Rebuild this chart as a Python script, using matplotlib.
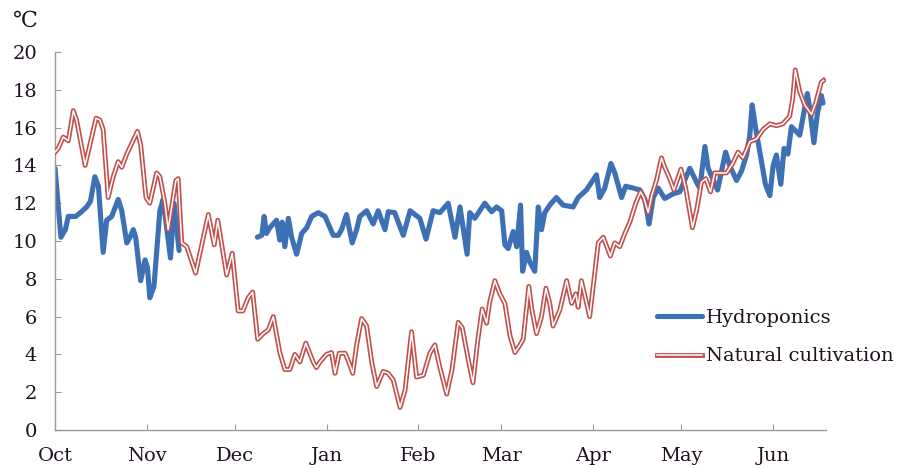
'''
Daily temperature: hydroponics vs natural cultivation (Oct - Jun)
'''

import numpy as np
import matplotlib
matplotlib.use('Agg')
import matplotlib.pyplot as plt
import matplotlib.patheffects as pe

# day offsets from Oct 1 and temperatures (deg C)
hydro_day = [0, 2, 3.5, 4.5, 7, 9, 10.7, 12, 13.5, 14.7, 16.3, 17.5, 19.2, 21.4, 22.6,
             24.3, 25.4, 26.5, 27.3, 29, 30.5, 31.3, 32.1, 33.5, 35.5, 36.6, 39.1, 40.3, 42,
             55,  # gap (no data)
             68.5, 70, 70.8, 71.6, 72.7, 75, 76.1, 76.9, 77.8, 79, 80.1, 81.8, 83.5, 85.2,
             86.9, 89.1, 91.4, 94.2, 95.9, 97, 98.7, 100.6, 102.1, 103.2, 105.5, 107.7,
             109.4, 111.7, 112.8, 115, 117.9, 120.2, 123.5, 125.6, 128, 130.3, 133.1, 135.4,
             137.1, 139.5, 140.4, 142.1, 145.5, 147.8, 149.5, 151.2, 152.3, 153.4, 155.1,
             156.3, 157.6, 158.3, 159.6, 160.7, 162.4, 163.6, 164.7, 165.8, 167.5, 169.7,
             172, 175.4, 177.1, 179.9, 183.3, 184.4, 186.1, 188.2, 189.5, 191.8, 193.2,
             195.7, 198, 199.7, 201.1, 202.5, 204.2, 206.4, 209.3, 211.5, 214.9, 217.2,
             218.3, 220, 221.1, 224.3, 227, 228.4, 230.7, 232.4, 234.1, 235.2, 236, 237.1,
             239.4, 240.5, 242, 243.1, 244.2, 245.7, 246.8, 248.1, 249.3, 252.1, 254.7,
             255.5, 256.9, 258.1, 259.4, 260]
hydro_val = [13.85, 10.2, 10.6, 11.3, 11.3, 11.55, 11.8, 12.1, 13.4, 12.9, 9.4, 11.1, 11.3,
             12.2, 11.6, 9.9, 10.2, 10.6, 10.2, 7.9, 9.0, 8.6, 7.0, 7.6, 11.6, 12.2, 9.1,
             12.0, 9.5,
             None,
             10.2, 10.3, 11.3, 10.4, 10.7, 11.1, 10.05, 11.0, 9.7, 11.2, 10.2, 9.3, 10.4,
             10.7, 11.3, 11.5, 11.3, 10.3, 10.3, 10.6, 11.4, 9.9, 10.6, 11.3, 11.6, 10.9,
             11.6, 10.6, 11.55, 11.5, 10.3, 11.6, 11.2, 10.1, 11.6, 11.5, 12.0, 10.2, 11.8,
             9.3, 11.5, 11.2, 12.0, 11.55, 11.8, 11.6, 9.8, 9.6, 10.5, 9.7, 11.9, 8.4, 9.4,
             8.9, 8.4, 11.8, 10.6, 11.5, 11.9, 12.3, 11.9, 11.8, 12.3, 12.7, 13.5, 12.3,
             12.8, 14.1, 13.6, 12.3, 12.9, 12.8, 12.7, 12.2, 10.9, 12.3, 12.8, 12.25, 12.5,
             12.6, 13.85, 13.1, 12.8, 15.0, 13.85, 12.7, 14.7, 14.0, 13.2, 13.7, 14.55,
             15.6, 17.2, 16.05, 14.0, 13.0, 12.4, 14.0, 14.55, 13.0, 14.9, 14.6, 16.05,
             15.6, 17.8, 17.0, 15.2, 16.75, 17.7, 17.3]

nat_day = [0, 1.1, 2.8, 4.5, 6.2, 7.3, 10.2, 13.9, 15.2, 16.3, 18, 19.7, 21.4, 22.6, 24.3,
           27.9, 29, 30.8, 32.1, 34.4, 35.5, 37.2, 38.3, 40.9, 41.7, 42.9, 44.6, 47.6, 51.9,
           53.9, 55.1, 58.1, 60, 62, 63.6, 65.4, 66.9, 68.6, 70.5, 72.2, 73.9, 76.1, 77.8,
           79.5, 81.2, 82.9, 84.9, 87.4, 88.5, 89.7, 91.9, 93.6, 94.8, 96.2, 98.2, 99.2,
           100.8, 102.1, 103.8, 105.5, 107.2, 108.9, 111.1, 112.8, 114.5, 116.8, 118.5,
           120.7, 122.4, 124.7, 126.9, 128.6, 130.3, 132.6, 134.4, 136.5, 137.9, 139.8,
           141.5, 143, 144.6, 146.1, 147.2, 148.9, 150.6, 152.3, 154, 155.7, 157.4, 158.5,
           160.4, 161.4, 163, 164.7, 166.2, 167.5, 168.6, 170.9, 173.2, 174.9, 176.3,
           177.1, 178.2, 181, 182.7, 183.9, 185.6, 188, 189.5, 191.2, 192.9, 194.6, 196.6,
           198.2, 199.3, 200.8, 202, 203.6, 205.3, 206.4, 208.1, 209.5, 211.9, 213.5,
           215.8, 217.3, 218.8, 220.3, 221.9, 223.3, 225.4, 227.3, 229.4, 231.2, 232.9,
           235.2, 237.5, 239.7, 242, 244.2, 246.4, 248.7, 249.7, 250.6, 252.1, 253.8,
           256.1, 257.5, 259.4, 260.2]
nat_val = [14.7, 14.9, 15.5, 15.3, 16.9, 16.4, 14.0, 16.5, 16.4, 15.9, 12.3, 13.4, 14.2,
           13.9, 14.6, 15.8, 15.1, 12.3, 12.0, 13.6, 13.4, 12.0, 10.6, 13.2, 13.3, 9.9, 9.7,
           8.3, 11.4, 9.8, 11.1, 8.2, 9.35, 6.3, 6.3, 7.0, 7.3, 4.8, 5.1, 5.3, 6.0, 4.1, 3.2,
           3.2, 4.0, 3.6, 4.6, 3.6, 3.3, 3.6, 4.0, 4.1, 3.0, 4.06, 4.06, 3.7, 3.0, 4.5, 5.9,
           5.5, 3.6, 2.3, 3.1, 3.0, 2.65, 1.2, 2.1, 5.2, 2.8, 2.9, 4.06, 4.5, 3.3, 1.9, 3.2,
           5.7, 5.4, 3.8, 2.5, 4.6, 6.4, 5.65, 6.8, 7.9, 7.2, 6.7, 5.0, 4.1, 4.5, 4.8, 7.6,
           6.4, 5.1, 6.0, 7.5, 6.7, 5.5, 6.35, 7.9, 6.7, 7.2, 6.5, 7.9, 6.0, 8.3, 9.9, 10.2,
           9.2, 9.9, 9.7, 10.4, 11.0, 12.0, 12.6, 12.3, 11.5, 12.4, 13.2, 14.4, 13.9, 13.3,
           12.7, 13.8, 12.8, 10.7, 11.7, 13.1, 13.3, 12.6, 13.6, 13.6, 13.6, 14.1, 14.7,
           14.4, 15.25, 15.4, 15.9, 16.2, 16.1, 16.2, 16.6, 17.5, 19.05, 17.9, 17.2, 16.7,
           17.3, 18.4, 18.5]

month_labels = ['Oct', 'Nov', 'Dec', 'Jan', 'Feb', 'Mar', 'Apr', 'May', 'Jun']
month_start = [0, 31, 61, 92, 123, 151, 182, 212, 243]

txt = '#201020'
blue = '#3d70b4'
red = '#c0504d'
plt.rcParams['font.family'] = ['DejaVu Serif', 'DejaVu Sans']
plt.rcParams['font.size'] = 14

fig = plt.figure(figsize=(8.98, 4.68), dpi=100, facecolor='white')
ax = fig.add_axes([55 / 898, 38 / 468, 771 / 898, 378 / 468])

hv = np.array([np.nan if v is None else v for v in hydro_val], dtype=float)
ax.plot(hydro_day, hv, color=blue, lw=3.7, solid_joinstyle='round',
        solid_capstyle='round', label='Hydroponics', zorder=2)
ax.plot(nat_day, nat_val, color='white', lw=1.1, solid_joinstyle='round',
        path_effects=[pe.Stroke(linewidth=3.5, foreground=red), pe.Normal()],
        label='Natural cultivation', zorder=3)

ax.set_xlim(0, 261)
ax.set_ylim(0, 20)
ax.set_yticks(range(0, 21, 2))
ax.set_xticks(month_start)
ax.set_xticklabels(month_labels)

for s in ['top', 'right']:
    ax.spines[s].set_visible(False)
for s in ['left', 'bottom']:
    ax.spines[s].set_color('#9a9a9a')
    ax.spines[s].set_linewidth(1.0)
ax.tick_params(axis='both', direction='in', length=4.5, color='#9a9a9a',
               labelcolor=txt, labelsize=14)
ax.tick_params(axis='y', pad=13)
ax.tick_params(axis='x', pad=12)

fig.text(13 / 898, 1 - 21 / 468, '℃', color=txt, fontsize=16, va='center', ha='left')

leg = ax.legend(loc='upper left', bbox_to_anchor=(657 / 898, 1 - 309 / 468),
                bbox_transform=fig.transFigure, frameon=False, borderpad=0,
                handlelength=2.3, handletextpad=0.2, labelspacing=1.05,
                borderaxespad=0, fontsize=14)
for t in leg.get_texts():
    t.set_color(txt)

fig.savefig('out.png', dpi=100, facecolor='white')
